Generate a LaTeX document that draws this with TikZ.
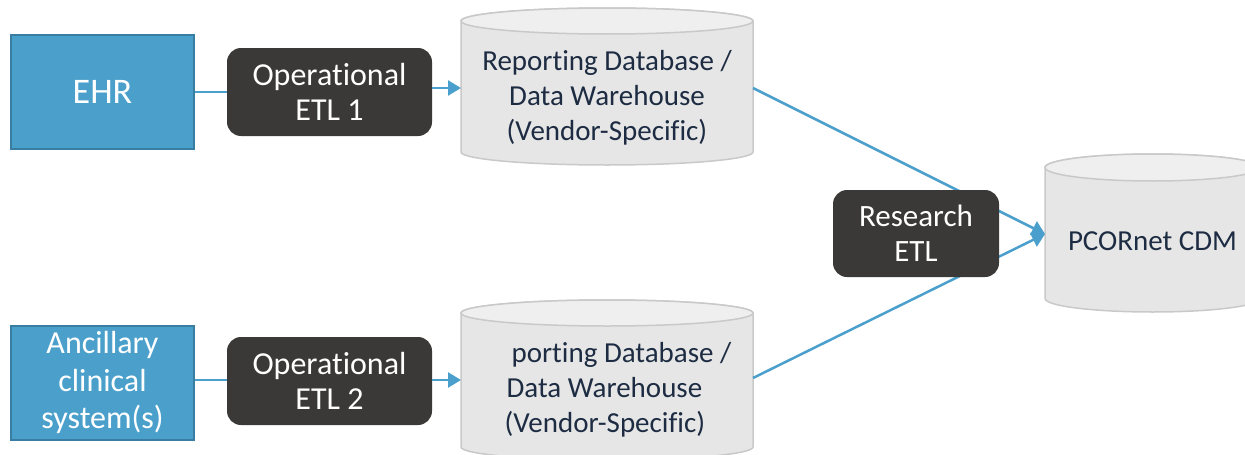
\documentclass[tikz,border=0pt]{standalone}
\usepackage{fontspec}
\setmainfont{Carlito}[RawFeature=-liga]
\usetikzlibrary{arrows.meta}
\definecolor{srcblue}{HTML}{4BA0CB}
\definecolor{srcedge}{HTML}{3A7DA2}
\definecolor{etldark}{HTML}{3B3937}
\definecolor{dbbody}{HTML}{E6E6E6}
\definecolor{dbtop}{HTML}{EFEFEF}
\definecolor{dbedge}{HTML}{C9C9C9}
\definecolor{dbtext}{HTML}{1D2C42}
\definecolor{lineblue}{HTML}{4A9FCC}
\tikzset{
  srcbox/.style={draw=srcedge, line width=2pt, fill=srcblue, text=white, minimum width=183pt, minimum height=114pt, inner sep=0pt, align=center},
  etlbox/.style={fill=etldark, rounded corners=14pt, text=white, minimum width=205pt, minimum height=88pt, inner sep=0pt, align=center, font=\fontsize{32}{35}\selectfont},
  dblabel/.style={text=dbtext, inner sep=0pt, align=center, font=\fontsize{29}{35}\selectfont},
  dbshape/.style={fill=dbbody, draw=dbedge, line width=1.5pt},
  dbcap/.style={fill=dbtop, draw=dbedge, line width=1.5pt},
  flow/.style={draw=lineblue, line width=2.5pt},
  flowarr/.style={flow, -{Triangle[length=13pt,width=15pt]}},
}
\newcommand{\dbcyl}[5]{% x1, x2, ytop-center, ybot-center, ry
  \pgfmathsetmacro{\cxm}{(#1+#2)/2}
  \pgfmathsetmacro{\rxm}{(#2-#1)/2}
  \path[dbshape] (#1,#3) -- (#1,#4) arc[start angle=180,end angle=360,x radius=\rxm pt,y radius=#5pt] -- (#2,#3) arc[start angle=0,end angle=180,x radius=\rxm pt,y radius=#5pt] -- cycle;
  \path[dbcap] (\cxm,#3) ellipse[x radius=\rxm pt, y radius=#5pt];
}
\begin{document}
\begin{tikzpicture}[x=1pt,y=-1pt]
\useasboundingbox (0,0) rectangle (1245,455);
\clip (0,0) rectangle (1245,455);
% cylinders
\dbcyl{461}{753}{21}{152}{13}
\dbcyl{461}{753}{313}{447}{13}
\dbcyl{1045}{1260}{167.5}{298.5}{13.5}
% nodes
\node[srcbox, font=\fontsize{36}{40}\selectfont] (ehr) at (102.5,92) {EHR};
\node[srcbox, font=\fontsize{32}{37.5}\selectfont] (anc) at (102.5,382.5) {Ancillary\\clinical\\system(s)};
\node[etlbox] (etl1) at (329.5,92) {Operational\\ETL 1};
\node[etlbox] (etl2) at (329.5,381) {Operational\\ETL 2};
\node[dblabel, minimum width=292pt, minimum height=130pt] (db1) at (607,97.5) {Reporting Database /\\Data Warehouse\\(Vendor-Specific)};
\node[dblabel, align=left, minimum height=130pt] (db2) at (618,390) {\hspace*{7pt}porting Database /\\\hspace*{2pt}Data Warehouse\\(Vendor-Specific)};
\node[dblabel, minimum width=215pt, minimum height=130pt] (pcor) at (1152.5,241) {PCORnet CDM};
\coordinate (tip) at (1045,234);
% connectors
\draw[flow] (ehr.east) -- (etl1.west);
\draw[flow] (anc.east |- 0,380) -- (etl2.west |- 0,380);
\draw[flowarr] (etl1.east |- 0,88) -- (461,88);
\draw[flowarr] (etl2.east |- 0,380) -- (461,380);
\draw[flowarr] (753,88) -- (tip);
\draw[flowarr] (753,378) -- (tip);
\node[etlbox, minimum width=166pt, minimum height=87pt, font=\fontsize{31}{35}\selectfont] (retl) at (916,233.5) {Research\\ETL};
\end{tikzpicture}
\end{document}
